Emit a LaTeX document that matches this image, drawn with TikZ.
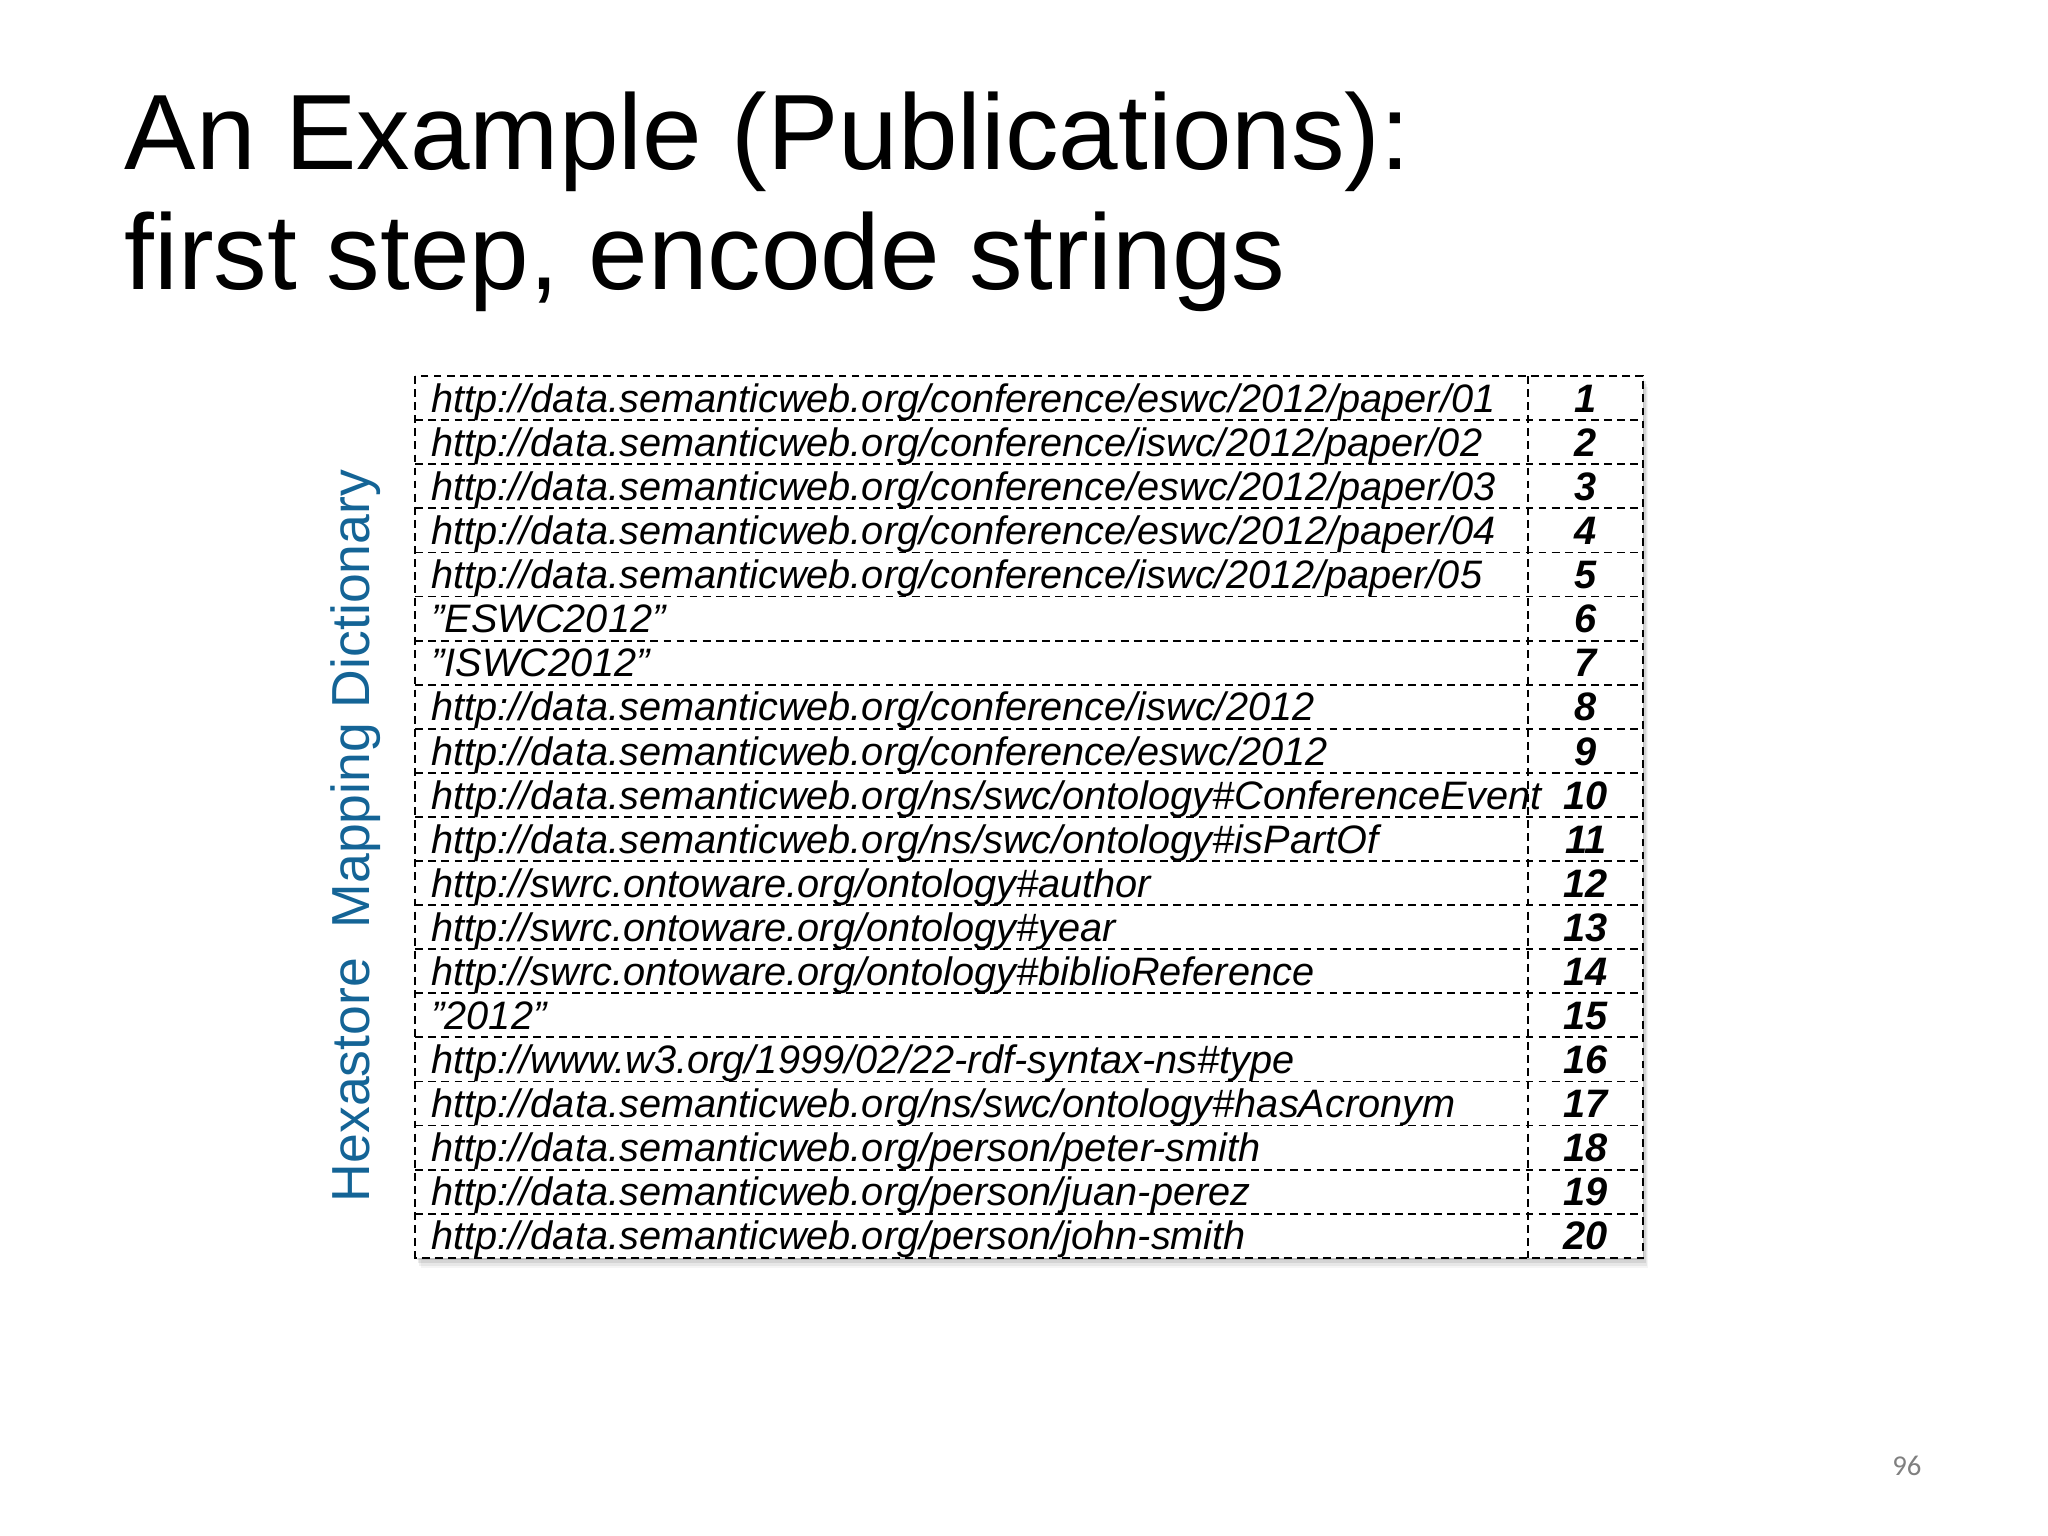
\documentclass[tikz,border=0pt]{standalone}
\usepackage{fontspec}
\setmainfont{Liberation Sans}
\newfontfamily\pgnum{Carlito}
\definecolor{lblblue}{RGB}{20,100,150}
\begin{document}
\begin{tikzpicture}[x=0.5pt,y=-0.5pt,
  cell/.style={anchor=base west,font=\fontsize{15.2}{16}\selectfont\itshape,inner sep=0},
  num/.style={anchor=base,font=\fontsize{15.2}{16}\selectfont\bfseries\itshape,inner sep=0},
  grid/.style={densely dashed,line width=0.7pt}]
\useasboundingbox (0,0) rectangle (1568,1176);
\node[anchor=base west,inner sep=0,font=\fontsize{41}{46}\selectfont] (t1) at (95,130) {An Example (Publications):};
\node[anchor=base west,inner sep=0,font=\fontsize{41}{46}\selectfont] (t2) at (95,222) {first step, encode strings};
% shadow
\foreach \i/\o in {1/0.10,2/0.08,3/0.06,4/0.04}
  \fill[black,opacity=\o] (318+\i,288+2*\i) rectangle (1258+\i,963+2*\i);
\fill[white] (318,288) rectangle (1258,963);
\def\rh{33.75}
\foreach \k in {1,...,19} \draw[grid] (318,288+\k*\rh) -- (1258,288+\k*\rh);
\draw[grid] (318,288) rectangle (1258,963);
\draw[grid] (1170,288) -- (1170,963);
\foreach [count=\k] \s in {
http://data.semanticweb.org/conference/eswc/2012/paper/01,
http://data.semanticweb.org/conference/iswc/2012/paper/02,
http://data.semanticweb.org/conference/eswc/2012/paper/03,
http://data.semanticweb.org/conference/eswc/2012/paper/04,
http://data.semanticweb.org/conference/iswc/2012/paper/05,
"ESWC2012",
"ISWC2012",
http://data.semanticweb.org/conference/iswc/2012,
http://data.semanticweb.org/conference/eswc/2012,
http://data.semanticweb.org/ns/swc/ontology\#ConferenceEvent,
http://data.semanticweb.org/ns/swc/ontology\#isPartOf,
http://swrc.ontoware.org/ontology\#author,
http://swrc.ontoware.org/ontology\#year,
http://swrc.ontoware.org/ontology\#biblioReference,
"2012",
http://www.w3.org/1999/02/22-rdf-syntax-ns\#type,
http://data.semanticweb.org/ns/swc/ontology\#hasAcronym,
http://data.semanticweb.org/person/peter-smith,
http://data.semanticweb.org/person/juan-perez,
http://data.semanticweb.org/person/john-smith}{
  \node[cell] (s\k) at (330,288+\k*\rh-6) {\s};
  \node[num] (n\k) at (1214,288+\k*\rh-6) {\k};
}
\node[rotate=90,inner sep=0,text=lblblue,font=\fontsize{20.5}{24}\selectfont] (lbl) at (272,640) {Hexastore\ \ Mapping Dictionary};
\node[inner sep=0,text=gray,font=\pgnum\fontsize{11}{12}\selectfont] (pg) at (1460,1122) {96};
\end{tikzpicture}
\end{document}
